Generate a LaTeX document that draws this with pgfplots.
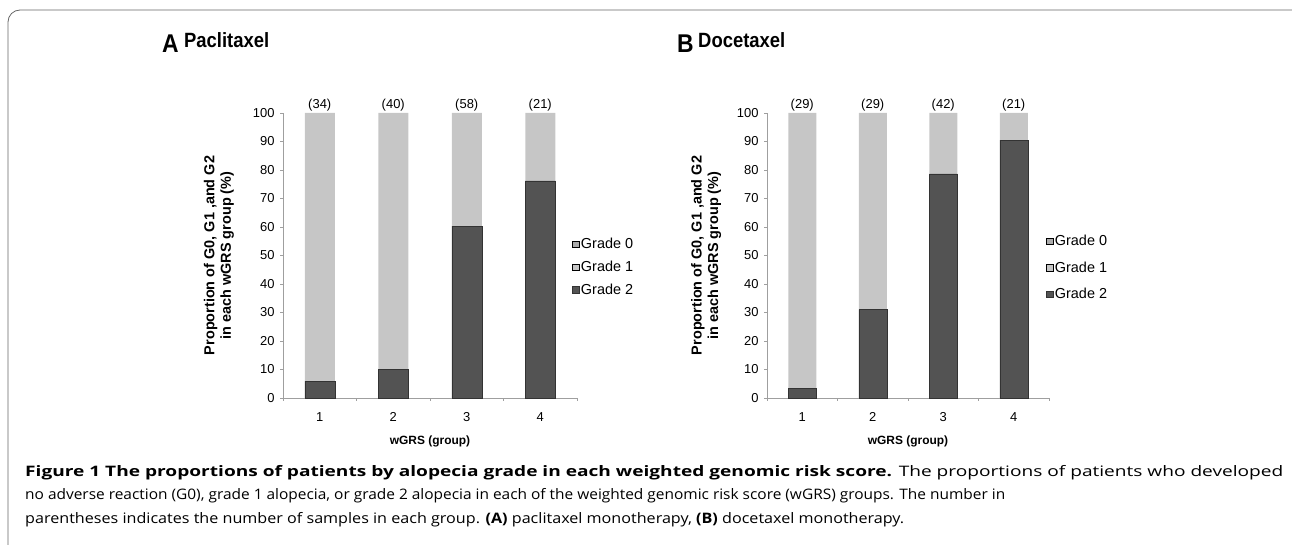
\documentclass[border=0pt]{standalone}
\usepackage{pgfplots}
\pgfplotsset{compat=1.18}
\usepackage{graphicx}
\usepackage{fontspec}
\setmainfont{Liberation Sans}
\newfontfamily\capfont{Open Sans}

\definecolor{gtwo}{HTML}{535353}
\definecolor{gone}{HTML}{C6C6C6}
\definecolor{gzero}{HTML}{ABABAB}
\definecolor{frame}{HTML}{666666}

\pgfplotsset{
  mybar/.style={
    scale only axis, height=285bp,
    ymin=0, ymax=100, xmin=0.5, xmax=4.5,
    ybar stacked,
    clip=false,
    axis x line*=bottom, axis y line*=left,
    axis line style={gray!75, line width=0.6bp},
    ytick={0,10,...,100},
    xtick={1,2,3,4},
    minor xtick={0.5,1.5,2.5,3.5,4.5},
    major x tick style={draw=none},
    minor x tick style={gray!75, line width=0.5bp},
    y tick style={gray!75, line width=0.5bp},
    tick align=outside,
    major tick length=3bp, minor tick length=3bp,
    /pgf/number format/assume math mode=true,
    ticklabel style={font=\fontsize{13}{14}\selectfont},
    yticklabel style={xshift=-2bp},
    xticklabel style={yshift=-8bp},
    xlabel={wGRS (group)},
    xlabel style={font=\bfseries\fontsize{12}{13}\selectfont, at={(axis description cs:0.5,-0.12)}, anchor=north},
    ylabel={Proportion of G0, G1 ,and G2\\in each wGRS group (\%)},
    ylabel style={font=\bfseries\fontsize{14.5}{16.5}\selectfont, align=center, anchor=center},
    reverse legend,
    legend cell align=left,
    legend image code/.code={\draw[##1] (0bp,-3.3bp) rectangle (6.6bp,3.3bp);},
    legend style={draw=none, fill=none, inner sep=0pt, outer sep=0pt,
      font=\fontsize{14.5}{16}\selectfont},
  }
}

\begin{document}
\begin{tikzpicture}
\path[use as bounding box] (0,0) rectangle (1292bp,545bp);
\draw[frame, line width=0.8bp, rounded corners=12bp] (8bp,0bp) |- (1292bp,535bp);

% Panel titles
\node[anchor=base west, inner sep=0, font=\bfseries\fontsize{23}{23}\selectfont] at (162bp,492bp) {\scalebox{1}[1.12]{A}};
\node[anchor=base west, inner sep=0, font=\bfseries\fontsize{18.5}{20}\selectfont] at (184bp,497bp) {\scalebox{1}[1.12]{Paclitaxel}};
\node[anchor=base west, inner sep=0, font=\bfseries\fontsize{23}{23}\selectfont] at (677bp,492bp) {\scalebox{1}[1.12]{B}};
\node[anchor=base west, inner sep=0, font=\bfseries\fontsize{18.5}{20}\selectfont] at (698bp,497bp) {\scalebox{1}[1.12]{Docetaxel}};

% Panel A
\begin{axis}[mybar, width=294bp, at={(283bp,147bp)}, anchor=south west,
  bar width=30bp,
  ylabel style={at={(axis description cs:-0.218,0.5)}},
  legend style={at={(0.983,0.568)}, anchor=north west, row sep=7bp}]
\addplot[fill=gtwo, draw=black!80, line width=0.4bp] coordinates {(1,5.9) (2,10.0) (3,60.3) (4,76.2)};
\addplot[fill=gone, draw=none] coordinates {(1,94.1) (2,90.0) (3,39.7) (4,23.8)};
\addplot[fill=gzero, draw=none] coordinates {(1,0) (2,0) (3,0) (4,0)};
\legend{Grade 2, Grade 1, Grade 0}
\node[anchor=base, font=\fontsize{13}{14}\selectfont] at ([yshift=4bp]axis cs:1,100) {(34)};
\node[anchor=base, font=\fontsize{13}{14}\selectfont] at ([yshift=4bp]axis cs:2,100) {(40)};
\node[anchor=base, font=\fontsize{13}{14}\selectfont] at ([yshift=4bp]axis cs:3,100) {(58)};
\node[anchor=base, font=\fontsize{13}{14}\selectfont] at ([yshift=4bp]axis cs:4,100) {(21)};
\end{axis}

% Panel B
\begin{axis}[mybar, width=282bp, at={(767bp,147bp)}, anchor=south west,
  bar width=28bp,
  ylabel style={at={(axis description cs:-0.216,0.5)}},
  legend style={at={(0.989,0.578)}, anchor=north west, row sep=10.5bp}]
\addplot[fill=gtwo, draw=black!80, line width=0.4bp] coordinates {(1,3.4) (2,31.0) (3,78.6) (4,90.5)};
\addplot[fill=gone, draw=none] coordinates {(1,96.6) (2,69.0) (3,21.4) (4,9.5)};
\addplot[fill=gzero, draw=none] coordinates {(1,0) (2,0) (3,0) (4,0)};
\legend{Grade 2, Grade 1, Grade 0}
\node[anchor=base, font=\fontsize{13}{14}\selectfont] at ([yshift=4bp]axis cs:1,100) {(29)};
\node[anchor=base, font=\fontsize{13}{14}\selectfont] at ([yshift=4bp]axis cs:2,100) {(29)};
\node[anchor=base, font=\fontsize{13}{14}\selectfont] at ([yshift=4bp]axis cs:3,100) {(42)};
\node[anchor=base, font=\fontsize{13}{14}\selectfont] at ([yshift=4bp]axis cs:4,100) {(21)};
\end{axis}

% Caption
\node[anchor=base west, inner sep=0] at (25bp,68bp) {\resizebox{1258bp}{\height}{\capfont\fontsize{14.5}{16}\selectfont\textbf{Figure 1 The proportions of patients by alopecia grade in each weighted genomic risk score.} The proportions of patients who developed}};
\node[anchor=base west, inner sep=0] at (25bp,45bp) {\resizebox{980bp}{\height}{\capfont\fontsize{14.5}{16}\selectfont no adverse reaction (G0), grade 1 alopecia, or grade 2 alopecia in each of the weighted genomic risk score (wGRS) groups. The number in}};
\node[anchor=base west, inner sep=0] at (25bp,22bp) {\resizebox{879bp}{\height}{\capfont\fontsize{14.5}{16}\selectfont parentheses indicates the number of samples in each group. \textbf{(A)} paclitaxel monotherapy, \textbf{(B)} docetaxel monotherapy.}};
\end{tikzpicture}
\end{document}
